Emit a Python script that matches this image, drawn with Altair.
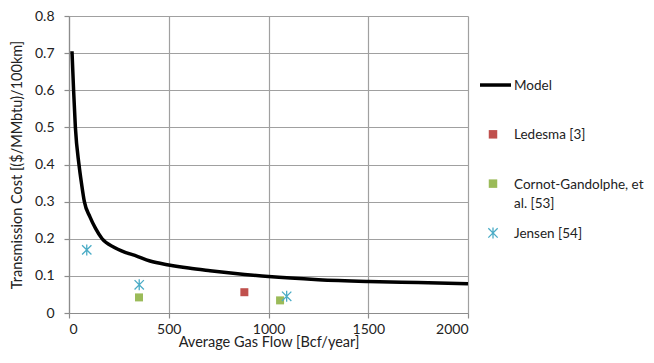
import altair as alt
import pandas as pd

# ---- data ----
model_x = [15, 23, 32, 50, 63, 77, 105, 133, 166, 230, 345, 406, 500, 600, 707, 880, 1000, 1250, 1500, 1750, 2000]
model_y = [0.705, 0.6, 0.5, 0.4, 0.348, 0.3, 0.259, 0.228, 0.2, 0.176, 0.152, 0.14, 0.1295, 0.121, 0.114, 0.104, 0.098, 0.0897, 0.085, 0.082, 0.079]

ledesma_x = [879]
ledesma_y = [0.056]
cornot_x = [351, 1058]
cornot_y = [0.042, 0.034]
jensen_x = [89, 352, 1091]
jensen_y = [0.170, 0.076, 0.045]

series = ["Model", "Ledesma [3]", "Cornot-Gandolphe, et al. [53]", "Jensen [54]"]
legend_labels = ["Model", "Ledesma [3]", "Cornot-Gandolphe, et\nal. [53]", "Jensen [54]"]
colors = ["#000000", "#C0504D", "#9BBB59", "#4BACC6"]

x_ticks = [0, 500, 1000, 1500, 2000]
y_ticks = [0, 0.1, 0.2, 0.3, 0.4, 0.5, 0.6, 0.7, 0.8]

ASTERISK = "M-0.85,-0.85L0.85,0.85M-0.85,0.85L0.85,-0.85M0,-1L0,1"

model_df = pd.DataFrame({"x": model_x, "y": model_y})
sq_df = pd.DataFrame({
    "x": ledesma_x + cornot_x,
    "y": ledesma_y + cornot_y,
    "series": [series[1]] * len(ledesma_x) + [series[2]] * len(cornot_x),
})
jen_df = pd.DataFrame({"x": jensen_x, "y": jensen_y, "series": series[3]})
leg_df = pd.DataFrame({"series": series, "idx": list(range(len(series))), "label": legend_labels})

color_scale = alt.Scale(domain=series, range=colors)
xs = alt.Scale(domain=[0, 2000], nice=False)
ys = alt.Scale(domain=[0, 0.8], nice=False)

X = alt.X("x:Q", scale=xs, axis=alt.Axis(values=x_ticks, format="d", title="Average Gas Flow [Bcf/year]",
                                          labelPadding=4, titleY=33, titleBaseline="alphabetic"))
Y = alt.Y("y:Q", scale=ys, axis=alt.Axis(values=y_ticks, format="~g", title="Transmission Cost [($/MMbtu)/100km]",
                                          labelPadding=10, titlePadding=10))

line = alt.Chart(model_df).mark_line(color="#000000", strokeWidth=3.5, interpolate="monotone").encode(x=X, y=Y)
squares = alt.Chart(sq_df).mark_point(shape="square", filled=True, size=64, opacity=1).encode(
    x=X, y=Y, color=alt.Color("series:N", scale=color_scale, legend=None))
stars = alt.Chart(jen_df).mark_point(shape=ASTERISK, filled=False, size=121, strokeWidth=1.3, opacity=1).encode(
    x=X, y=Y, color=alt.Color("series:N", scale=color_scale, legend=None))

main = alt.layer(line, squares, stars)

LY = alt.Y("idx:Q", scale=alt.Scale(domain=[-1.40, 4.624], reverse=True, nice=False, zero=False), axis=None)
leg_base = alt.Chart(leg_df)
leg_line = leg_base.transform_filter(alt.datum.idx == 0).mark_rule(color="#000000", strokeWidth=3.5).encode(
    x=alt.value(411), x2=alt.value(442), y=LY)
leg_sq = leg_base.transform_filter((alt.datum.idx == 1) | (alt.datum.idx == 2)).mark_point(
    shape="square", filled=True, size=72, opacity=1).encode(
    x=alt.value(424), y=LY, color=alt.Color("series:N", scale=color_scale, legend=None))
leg_star = leg_base.transform_filter(alt.datum.idx == 3).mark_point(
    shape=ASTERISK, filled=False, size=121, strokeWidth=1.3, opacity=1).encode(
    x=alt.value(424), y=LY, color=alt.Color("series:N", scale=color_scale, legend=None))
leg_text = leg_base.mark_text(align="left", baseline="top", dy=-6, lineBreak="\n", lineHeight=19,
                              font="Lato", fontSize=13.5, color="#222222").encode(
    x=alt.value(445), y=LY, text="label:N")
legend = alt.layer(leg_line, leg_sq, leg_star, leg_text)

chart = alt.layer(main, legend).resolve_scale(y="independent").properties(
    width=399, height=297,
    autosize=alt.AutoSizeParams(type="none"),
    padding={"left": 61, "top": 8, "right": 178, "bottom": 38},
).configure_view(stroke=None).configure_axis(
    domainColor="#8c8c8c", domainWidth=1.2, gridColor="#a0a0a0", gridWidth=1.2,
    tickColor="#8c8c8c", tickWidth=1.2, tickSize=5,
    labelFont="Lato", labelFontSize=14, labelColor="#222222",
    titleFont="Lato", titleFontSize=14.5, titleFontWeight="normal", titleColor="#222222",
)

chart.save("out.html", embed_options={"renderer": "svg", "actions": False})
